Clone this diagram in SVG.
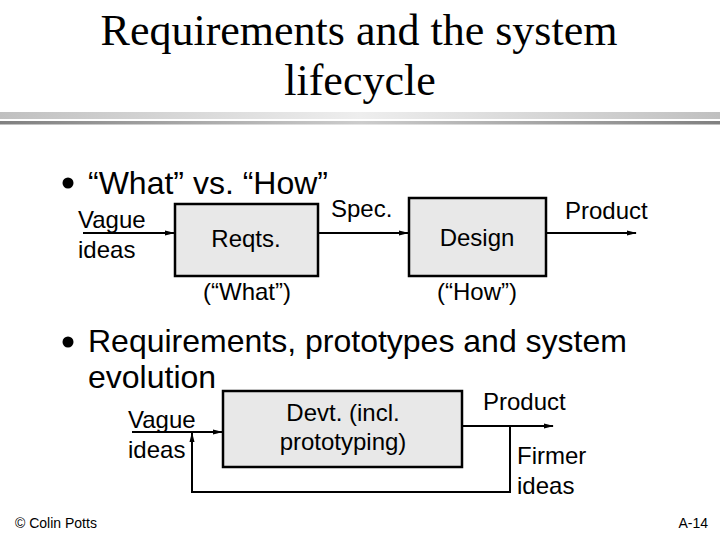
<svg xmlns="http://www.w3.org/2000/svg" width="720" height="540" viewBox="0 0 720 540">
<style>
.title{font-family:"Liberation Serif","Times New Roman",serif;font-size:44px;fill:#000;text-anchor:middle}
.b1{font-family:"Liberation Sans",Arial,sans-serif;font-size:32px;fill:#000}
.lbl{font-family:"Liberation Sans",Arial,sans-serif;font-size:24px;fill:#000}
.mid{text-anchor:middle}
.foot{font-family:"Liberation Sans",Arial,sans-serif;font-size:14px;fill:#000}
.box{fill:#e8e8e8;stroke:#000;stroke-width:2.5}
.ln{fill:none;stroke:#000;stroke-width:2}
</style>
<defs>
<linearGradient id="g1" x1="0" x2="1" y1="0" y2="0">
<stop offset="0" stop-color="#c0c0c0"/><stop offset="0.5" stop-color="#eeeeee"/><stop offset="1" stop-color="#c0c0c0"/>
</linearGradient>
<linearGradient id="g2" x1="0" x2="1" y1="0" y2="0">
<stop offset="0" stop-color="#808080"/><stop offset="0.5" stop-color="#cccccc"/><stop offset="1" stop-color="#808080"/>
</linearGradient>
<marker id="ah" markerWidth="10" markerHeight="6" refX="9" refY="3" orient="auto" markerUnits="userSpaceOnUse">
<path d="M0,0.5 L10,3 L0,5.5 z" fill="#000"/>
</marker>
</defs>
<rect width="720" height="540" fill="#fff"/>
<g id="title">
<text class="title" x="359" y="45">Requirements and the system</text>
<text class="title" x="360" y="95">lifecycle</text>
</g>
<g id="rule">
<rect x="0" y="112" width="720" height="7" fill="url(#g1)"/>
<rect x="0" y="121" width="720" height="3.5" fill="url(#g2)"/>
</g>
<g id="bullet1">
<circle cx="68" cy="183" r="5.5" fill="#000"/>
<text class="b1" x="88" y="194">“What” vs. “How”</text>
</g>
<g id="connectors">
<line class="ln" x1="83" y1="233" x2="174" y2="233" marker-end="url(#ah)"/>
<line class="ln" x1="319" y1="233" x2="408" y2="233" marker-end="url(#ah)"/>
<line class="ln" x1="547" y1="233" x2="636" y2="233" marker-end="url(#ah)"/>
<line class="ln" x1="132" y1="432" x2="222" y2="432" marker-end="url(#ah)"/>
<line class="ln" x1="463" y1="426" x2="553" y2="426" marker-end="url(#ah)"/>
<polyline class="ln" points="510,426 510,492 192,492 192,433" marker-end="url(#ah)"/>
</g>
<g id="labels1">
<text class="lbl" x="78" y="228">Vague</text>
<text class="lbl" x="78" y="258">ideas</text>
<text class="lbl" x="331" y="217">Spec.</text>
<text class="lbl" x="565" y="219">Product</text>
</g>
<g id="reqts">
<rect class="box" x="175" y="204" width="143" height="72"/>
<text class="lbl mid" x="246" y="247">Reqts.</text>
<text class="lbl mid" x="247" y="300">(“What”)</text>
</g>
<g id="design">
<rect class="box" x="409" y="198" width="137" height="78"/>
<text class="lbl mid" x="477" y="246">Design</text>
<text class="lbl mid" x="477" y="300">(“How”)</text>
</g>
<g id="bullet2">
<circle cx="68" cy="342" r="5.5" fill="#000"/>
<text class="b1" x="88" y="352">Requirements, prototypes and system</text>
<text class="b1" x="88" y="388">evolution</text>
</g>
<g id="devt">
<rect class="box" x="223" y="391" width="239" height="76"/>
<text class="lbl mid" x="343" y="421">Devt. (incl.</text>
<text class="lbl mid" x="343" y="450">prototyping)</text>
</g>
<g id="labels2">
<text class="lbl" x="128" y="428">Vague</text>
<text class="lbl" x="128" y="458">ideas</text>
<text class="lbl" x="483" y="410">Product</text>
<text class="lbl" x="517" y="464">Firmer</text>
<text class="lbl" x="517" y="494">ideas</text>
</g>
<g id="footer">
<text class="foot" x="15" y="528">© Colin Potts</text>
<text class="foot" x="708" y="528" text-anchor="end">A-14</text>
</g>
</svg>
